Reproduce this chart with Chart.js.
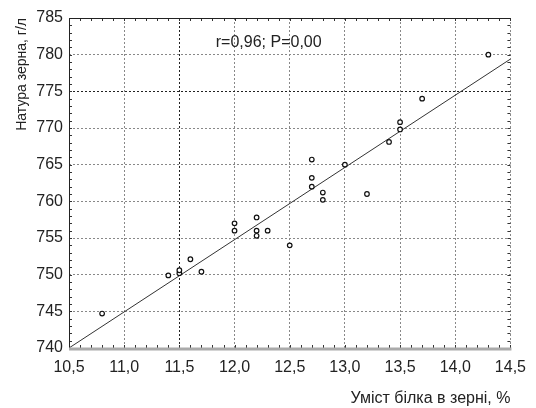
<!DOCTYPE html>
<html>
<head>
<meta charset="utf-8">
<script src="https://cdn.jsdelivr.net/npm/chart.js@4.4.1/dist/chart.umd.min.js"></script>
<style>
  html, body { margin: 0; padding: 0; background: #fff; }
  #wrap { width: 536px; height: 408px; }
</style>
</head>
<body>
<div id="wrap"><canvas id="chart" width="536" height="408"></canvas></div>
<script>
/* ===============================
   DATA
   =============================== */
const proteinPct = [10.8, 11.4, 11.5, 11.5, 11.6, 11.7, 12.0, 12.0, 12.2, 12.2, 12.2, 12.3,
                    12.5, 12.7, 12.7, 12.7, 12.8, 12.8, 13.0, 13.2, 13.4, 13.5, 13.5, 13.7, 14.3];
const testWeight = [744.7, 749.9, 750.2, 750.6, 752.1, 750.4, 757.0, 756.0, 757.8, 756.0, 755.3, 756.0,
                    754.0, 765.7, 763.2, 762.0, 761.2, 760.2, 765.0, 761.0, 768.1, 770.8, 769.8, 774.0, 780.0];

// regression line end points
const fitX = [10.5, 14.5];
const fitY = [740.0, 779.4];

const xTickValues = [10.5, 11.0, 11.5, 12.0, 12.5, 13.0, 13.5, 14.0, 14.5];
const yTickValues = [740, 745, 750, 755, 760, 765, 770, 775, 780, 785];

const statsText = "r=0,96; P=0,00";
const xTitle = "Уміст білка в зерні, %";
const yTitle = "Натура зерна, г/л";

const FONT = "'Liberation Sans', Arial, sans-serif";

/* ===============================
   FRAME, INNER TICKS, LABEL
   =============================== */
const framePlugin = {
    id: "frame",
    afterDatasetsDraw(chart) {
        const { ctx, chartArea: a, scales: { x, y } } = chart;
        ctx.save();

        // minor ticks pointing inward
        ctx.strokeStyle = "#333";
        ctx.lineWidth = 1;
        ctx.beginPath();
        for (let i = 0; i <= 40; i++) {
            const px = Math.round(x.getPixelForValue(10.5 + i * 0.1)) + 0.5;
            ctx.moveTo(px, a.bottom); ctx.lineTo(px, a.bottom - 3);
            ctx.moveTo(px, a.top); ctx.lineTo(px, a.top + 3);
        }
        for (let v = 740; v <= 785; v++) {
            const py = Math.round(y.getPixelForValue(v)) + 0.5;
            ctx.moveTo(a.left, py); ctx.lineTo(a.left + 3, py);
            ctx.moveTo(a.right, py); ctx.lineTo(a.right - 3, py);
        }
        ctx.stroke();

        // dark top and left edge
        ctx.strokeStyle = "#222";
        ctx.beginPath();
        ctx.moveTo(a.left + 0.5, a.bottom);
        ctx.lineTo(a.left + 0.5, a.top + 0.5);
        ctx.lineTo(a.right, a.top + 0.5);
        ctx.stroke();

        // grey bottom edge
        ctx.strokeStyle = "#aaa";
        ctx.lineWidth = 3;
        ctx.beginPath();
        ctx.moveTo(a.left, a.bottom + 1);
        ctx.lineTo(a.right + 1, a.bottom + 1);
        ctx.stroke();

        // statistics label
        ctx.fillStyle = "#222";
        ctx.font = "16px " + FONT;
        ctx.textAlign = "left";
        ctx.textBaseline = "middle";
        ctx.fillText(statsText, x.getPixelForValue(11.83), y.getPixelForValue(781.7));
        ctx.restore();
    }
};

/* ===============================
   CHART
   =============================== */
const gridColor = ctx => {
    const v = ctx.tick && ctx.tick.value;
    return (v === 11.5 || v === 775) ? "#222" : "#888";
};

new Chart(document.getElementById("chart"), {
    type: "scatter",
    data: {
        datasets: [
            {
                label: "points",
                data: proteinPct.map((p, i) => ({ x: p, y: testWeight[i] })),
                pointRadius: 2.3,
                pointBorderWidth: 1.2,
                pointBorderColor: "#111",
                pointBackgroundColor: "#fff"
            },
            {
                type: "line",
                label: "fit",
                data: fitX.map((p, i) => ({ x: p, y: fitY[i] })),
                borderColor: "#333",
                borderWidth: 1,
                pointRadius: 0
            }
        ]
    },
    options: {
        responsive: false,
        animation: false,
        devicePixelRatio: 1,
        layout: { padding: { top: 18, right: 17, left: 0, bottom: 0 } },
        plugins: { legend: { display: false }, tooltip: { enabled: false } },
        scales: {
            x: {
                type: "linear",
                min: 10.5,
                max: 14.5,
                afterBuildTicks: s => { s.ticks = xTickValues.map(v => ({ value: v })); },
                afterFit: s => { s.height = 60; },
                ticks: {
                    padding: 10,
                    color: "#222",
                    font: { family: FONT, size: 16 },
                    maxRotation: 0,
                    callback: v => v.toFixed(1).replace(".", ",")
                },
                grid: { color: gridColor, drawTicks: false, lineWidth: 1 },
                border: { display: false, dash: [2, 2] },
                title: {
                    display: true,
                    text: xTitle,
                    align: "end",
                    color: "#222",
                    font: { family: FONT, size: 16 },
                    padding: { top: 0, bottom: 0 }
                }
            },
            y: {
                type: "linear",
                min: 740,
                max: 785,
                afterBuildTicks: s => { s.ticks = yTickValues.map(v => ({ value: v })); },
                afterFit: s => { s.width = 69; },
                ticks: {
                    padding: 6,
                    color: "#222",
                    font: { family: FONT, size: 16 },
                    callback: v => String(v)
                },
                grid: { color: gridColor, drawTicks: false, lineWidth: 1 },
                border: { display: false, dash: [2, 2] },
                title: {
                    display: true,
                    text: yTitle,
                    align: "end",
                    color: "#222",
                    font: { family: FONT, size: 14 },
                    padding: { top: 14, bottom: 0 }
                }
            }
        }
    },
    plugins: [framePlugin]
});
</script>
</body>
</html>
